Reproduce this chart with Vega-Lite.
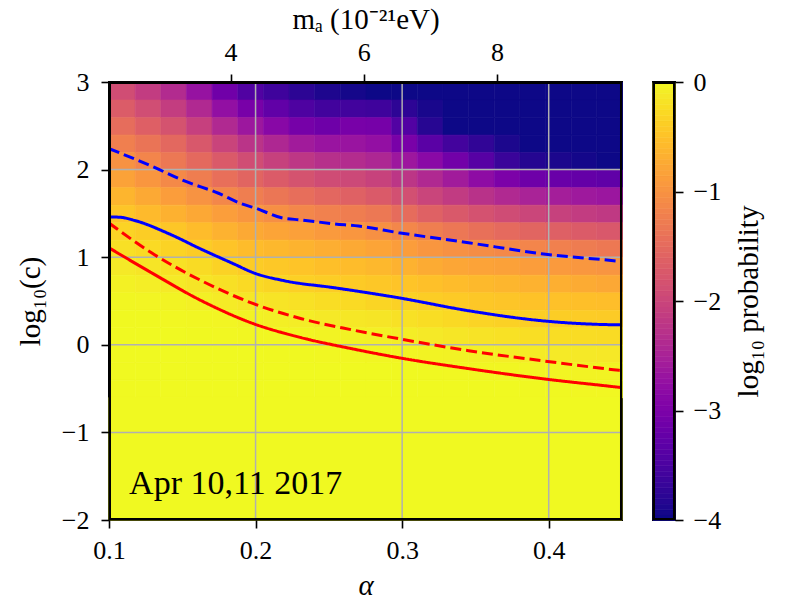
{
  "$schema": "https://vega.github.io/schema/vega-lite/v6.json",
  "background": "white",
  "padding": {"left": 15, "top": 4, "right": 5, "bottom": 5},
  "config": {
    "font": "Liberation Serif",
    "view": {"stroke": "black", "strokeWidth": 2},
    "axis": {"grid": false, "domain": false, "labelFlush": false, "labelOverlap": false, "labelFont": "Liberation Serif", "titleFont": "Liberation Serif", "labelFontSize": 26, "titleFontSize": 29, "titleFontWeight": "normal", "labelColor": "black", "titleColor": "black", "tickColor": "black", "tickSize": 8, "tickWidth": 1.6},
    "axisBottom": {"labelPadding": 9, "titlePadding": 8},
    "axisLeft": {"labelPadding": 12, "titlePadding": 16},
    "axisTop": {"labelPadding": 9, "titlePadding": 5},
    "axisRight": {"labelPadding": 10, "titlePadding": 14}
  },
  "datasets": {
    "cells": [
      {"a":0.1,"c":2.8,"p":-1.92},{"a":0.1175,"c":2.8,"p":-2.15},{"a":0.135,"c":2.8,"p":-2.39},{"a":0.1525,"c":2.8,"p":-2.73},{"a":0.17,"c":2.8,"p":-3.14},{"a":0.1875,"c":2.8,"p":-3.46},{"a":0.205,"c":2.8,"p":-3.63},{"a":0.2225,"c":2.8,"p":-3.79},{"a":0.24,"c":2.8,"p":-3.9},{"a":0.2575,"c":2.8,"p":-3.95},{"a":0.275,"c":2.8,"p":-4},{"a":0.2925,"c":2.8,"p":-4},{"a":0.31,"c":2.8,"p":-4},{"a":0.3275,"c":2.8,"p":-4},{"a":0.345,"c":2.8,"p":-4},{"a":0.3625,"c":2.8,"p":-4},{"a":0.38,"c":2.8,"p":-4},{"a":0.3975,"c":2.8,"p":-4},{"a":0.415,"c":2.8,"p":-4},{"a":0.4325,"c":2.8,"p":-4},
      {"a":0.1,"c":2.6,"p":-1.71},{"a":0.1175,"c":2.6,"p":-1.91},{"a":0.135,"c":2.6,"p":-2.13},{"a":0.1525,"c":2.6,"p":-2.42},{"a":0.17,"c":2.6,"p":-2.78},{"a":0.1875,"c":2.6,"p":-3.07},{"a":0.205,"c":2.6,"p":-3.29},{"a":0.2225,"c":2.6,"p":-3.49},{"a":0.24,"c":2.6,"p":-3.6},{"a":0.2575,"c":2.6,"p":-3.6},{"a":0.275,"c":2.6,"p":-3.63},{"a":0.2925,"c":2.6,"p":-3.78},{"a":0.31,"c":2.6,"p":-3.93},{"a":0.3275,"c":2.6,"p":-4},{"a":0.345,"c":2.6,"p":-4},{"a":0.3625,"c":2.6,"p":-4},{"a":0.38,"c":2.6,"p":-4},{"a":0.3975,"c":2.6,"p":-4},{"a":0.415,"c":2.6,"p":-4},{"a":0.4325,"c":2.6,"p":-4},
      {"a":0.1,"c":2.4,"p":-1.48},{"a":0.1175,"c":2.4,"p":-1.66},{"a":0.135,"c":2.4,"p":-1.84},{"a":0.1525,"c":2.4,"p":-2.09},{"a":0.17,"c":2.4,"p":-2.41},{"a":0.1875,"c":2.4,"p":-2.67},{"a":0.205,"c":2.4,"p":-2.89},{"a":0.2225,"c":2.4,"p":-3.09},{"a":0.24,"c":2.4,"p":-3.16},{"a":0.2575,"c":2.4,"p":-3.07},{"a":0.275,"c":2.4,"p":-3.09},{"a":0.2925,"c":2.4,"p":-3.45},{"a":0.31,"c":2.4,"p":-3.83},{"a":0.3275,"c":2.4,"p":-4},{"a":0.345,"c":2.4,"p":-4},{"a":0.3625,"c":2.4,"p":-4},{"a":0.38,"c":2.4,"p":-4},{"a":0.3975,"c":2.4,"p":-4},{"a":0.415,"c":2.4,"p":-4},{"a":0.4325,"c":2.4,"p":-4},
      {"a":0.1,"c":2.2,"p":-1.25},{"a":0.1175,"c":2.2,"p":-1.39},{"a":0.135,"c":2.2,"p":-1.55},{"a":0.1525,"c":2.2,"p":-1.77},{"a":0.17,"c":2.2,"p":-2.04},{"a":0.1875,"c":2.2,"p":-2.26},{"a":0.205,"c":2.2,"p":-2.44},{"a":0.2225,"c":2.2,"p":-2.61},{"a":0.24,"c":2.2,"p":-2.7},{"a":0.2575,"c":2.2,"p":-2.7},{"a":0.275,"c":2.2,"p":-2.77},{"a":0.2925,"c":2.2,"p":-3.06},{"a":0.31,"c":2.2,"p":-3.36},{"a":0.3275,"c":2.2,"p":-3.59},{"a":0.345,"c":2.2,"p":-3.75},{"a":0.3625,"c":2.2,"p":-3.91},{"a":0.38,"c":2.2,"p":-4},{"a":0.3975,"c":2.2,"p":-4},{"a":0.415,"c":2.2,"p":-4},{"a":0.4325,"c":2.2,"p":-4},
      {"a":0.1,"c":2.0,"p":-1.03},{"a":0.1175,"c":2.0,"p":-1.18},{"a":0.135,"c":2.0,"p":-1.35},{"a":0.1525,"c":2.0,"p":-1.53},{"a":0.17,"c":2.0,"p":-1.74},{"a":0.1875,"c":2.0,"p":-1.92},{"a":0.205,"c":2.0,"p":-2.08},{"a":0.2225,"c":2.0,"p":-2.22},{"a":0.24,"c":2.0,"p":-2.32},{"a":0.2575,"c":2.0,"p":-2.37},{"a":0.275,"c":2.0,"p":-2.45},{"a":0.2925,"c":2.0,"p":-2.66},{"a":0.31,"c":2.0,"p":-2.87},{"a":0.3275,"c":2.0,"p":-3.12},{"a":0.345,"c":2.0,"p":-3.4},{"a":0.3625,"c":2.0,"p":-3.67},{"a":0.38,"c":2.0,"p":-3.85},{"a":0.3975,"c":2.0,"p":-3.91},{"a":0.415,"c":2.0,"p":-3.96},{"a":0.4325,"c":2.0,"p":-4},
      {"a":0.1,"c":1.8,"p":-0.84},{"a":0.1175,"c":1.8,"p":-0.98},{"a":0.135,"c":1.8,"p":-1.13},{"a":0.1525,"c":1.8,"p":-1.28},{"a":0.17,"c":1.8,"p":-1.45},{"a":0.1875,"c":1.8,"p":-1.59},{"a":0.205,"c":1.8,"p":-1.72},{"a":0.2225,"c":1.8,"p":-1.84},{"a":0.24,"c":1.8,"p":-1.93},{"a":0.2575,"c":1.8,"p":-1.98},{"a":0.275,"c":1.8,"p":-2.06},{"a":0.2925,"c":1.8,"p":-2.24},{"a":0.31,"c":1.8,"p":-2.42},{"a":0.3275,"c":1.8,"p":-2.61},{"a":0.345,"c":1.8,"p":-2.82},{"a":0.3625,"c":1.8,"p":-3.02},{"a":0.38,"c":1.8,"p":-3.16},{"a":0.3975,"c":1.8,"p":-3.21},{"a":0.415,"c":1.8,"p":-3.26},{"a":0.4325,"c":1.8,"p":-3.3},
      {"a":0.1,"c":1.6,"p":-0.65},{"a":0.1175,"c":1.6,"p":-0.77},{"a":0.135,"c":1.6,"p":-0.9},{"a":0.1525,"c":1.6,"p":-1.02},{"a":0.17,"c":1.6,"p":-1.16},{"a":0.1875,"c":1.6,"p":-1.27},{"a":0.205,"c":1.6,"p":-1.37},{"a":0.2225,"c":1.6,"p":-1.47},{"a":0.24,"c":1.6,"p":-1.56},{"a":0.2575,"c":1.6,"p":-1.64},{"a":0.275,"c":1.6,"p":-1.73},{"a":0.2925,"c":1.6,"p":-1.88},{"a":0.31,"c":1.6,"p":-2.03},{"a":0.3275,"c":1.6,"p":-2.16},{"a":0.345,"c":1.6,"p":-2.29},{"a":0.3625,"c":1.6,"p":-2.41},{"a":0.38,"c":1.6,"p":-2.51},{"a":0.3975,"c":1.6,"p":-2.57},{"a":0.415,"c":1.6,"p":-2.64},{"a":0.4325,"c":1.6,"p":-2.68},
      {"a":0.1,"c":1.4,"p":-0.49},{"a":0.1175,"c":1.4,"p":-0.59},{"a":0.135,"c":1.4,"p":-0.69},{"a":0.1525,"c":1.4,"p":-0.78},{"a":0.17,"c":1.4,"p":-0.89},{"a":0.1875,"c":1.4,"p":-0.98},{"a":0.205,"c":1.4,"p":-1.07},{"a":0.2225,"c":1.4,"p":-1.16},{"a":0.24,"c":1.4,"p":-1.23},{"a":0.2575,"c":1.4,"p":-1.28},{"a":0.275,"c":1.4,"p":-1.35},{"a":0.2925,"c":1.4,"p":-1.49},{"a":0.31,"c":1.4,"p":-1.64},{"a":0.3275,"c":1.4,"p":-1.75},{"a":0.345,"c":1.4,"p":-1.85},{"a":0.3625,"c":1.4,"p":-1.94},{"a":0.38,"c":1.4,"p":-2.02},{"a":0.3975,"c":1.4,"p":-2.08},{"a":0.415,"c":1.4,"p":-2.15},{"a":0.4325,"c":1.4,"p":-2.19},
      {"a":0.1,"c":1.2,"p":-0.35},{"a":0.1175,"c":1.2,"p":-0.41},{"a":0.135,"c":1.2,"p":-0.48},{"a":0.1525,"c":1.2,"p":-0.57},{"a":0.17,"c":1.2,"p":-0.68},{"a":0.1875,"c":1.2,"p":-0.77},{"a":0.205,"c":1.2,"p":-0.82},{"a":0.2225,"c":1.2,"p":-0.87},{"a":0.24,"c":1.2,"p":-0.93},{"a":0.2575,"c":1.2,"p":-0.98},{"a":0.275,"c":1.2,"p":-1.05},{"a":0.2925,"c":1.2,"p":-1.16},{"a":0.31,"c":1.2,"p":-1.27},{"a":0.3275,"c":1.2,"p":-1.36},{"a":0.345,"c":1.2,"p":-1.44},{"a":0.3625,"c":1.2,"p":-1.52},{"a":0.38,"c":1.2,"p":-1.59},{"a":0.3975,"c":1.2,"p":-1.65},{"a":0.415,"c":1.2,"p":-1.72},{"a":0.4325,"c":1.2,"p":-1.76},
      {"a":0.1,"c":1.0,"p":-0.23},{"a":0.1175,"c":1.0,"p":-0.29},{"a":0.135,"c":1.0,"p":-0.35},{"a":0.1525,"c":1.0,"p":-0.42},{"a":0.17,"c":1.0,"p":-0.5},{"a":0.1875,"c":1.0,"p":-0.57},{"a":0.205,"c":1.0,"p":-0.62},{"a":0.2225,"c":1.0,"p":-0.67},{"a":0.24,"c":1.0,"p":-0.72},{"a":0.2575,"c":1.0,"p":-0.77},{"a":0.275,"c":1.0,"p":-0.82},{"a":0.2925,"c":1.0,"p":-0.9},{"a":0.31,"c":1.0,"p":-0.98},{"a":0.3275,"c":1.0,"p":-1.04},{"a":0.345,"c":1.0,"p":-1.09},{"a":0.3625,"c":1.0,"p":-1.13},{"a":0.38,"c":1.0,"p":-1.18},{"a":0.3975,"c":1.0,"p":-1.24},{"a":0.415,"c":1.0,"p":-1.3},{"a":0.4325,"c":1.0,"p":-1.34},
      {"a":0.1,"c":0.8,"p":-0.14},{"a":0.1175,"c":0.8,"p":-0.18},{"a":0.135,"c":0.8,"p":-0.22},{"a":0.1525,"c":0.8,"p":-0.28},{"a":0.17,"c":0.8,"p":-0.36},{"a":0.1875,"c":0.8,"p":-0.42},{"a":0.205,"c":0.8,"p":-0.46},{"a":0.2225,"c":0.8,"p":-0.5},{"a":0.24,"c":0.8,"p":-0.54},{"a":0.2575,"c":0.8,"p":-0.57},{"a":0.275,"c":0.8,"p":-0.62},{"a":0.2925,"c":0.8,"p":-0.68},{"a":0.31,"c":0.8,"p":-0.75},{"a":0.3275,"c":0.8,"p":-0.8},{"a":0.345,"c":0.8,"p":-0.83},{"a":0.3625,"c":0.8,"p":-0.86},{"a":0.38,"c":0.8,"p":-0.9},{"a":0.3975,"c":0.8,"p":-0.93},{"a":0.415,"c":0.8,"p":-0.97},{"a":0.4325,"c":0.8,"p":-1.0},
      {"a":0.1,"c":0.6,"p":-0.07},{"a":0.1175,"c":0.6,"p":-0.1},{"a":0.135,"c":0.6,"p":-0.13},{"a":0.1525,"c":0.6,"p":-0.18},{"a":0.17,"c":0.6,"p":-0.23},{"a":0.1875,"c":0.6,"p":-0.29},{"a":0.205,"c":0.6,"p":-0.33},{"a":0.2225,"c":0.6,"p":-0.38},{"a":0.24,"c":0.6,"p":-0.41},{"a":0.2575,"c":0.6,"p":-0.44},{"a":0.275,"c":0.6,"p":-0.47},{"a":0.2925,"c":0.6,"p":-0.5},{"a":0.31,"c":0.6,"p":-0.53},{"a":0.3275,"c":0.6,"p":-0.57},{"a":0.345,"c":0.6,"p":-0.61},{"a":0.3625,"c":0.6,"p":-0.64},{"a":0.38,"c":0.6,"p":-0.68},{"a":0.3975,"c":0.6,"p":-0.71},{"a":0.415,"c":0.6,"p":-0.75},{"a":0.4325,"c":0.6,"p":-0.78},
      {"a":0.1,"c":0.4,"p":-0.03},{"a":0.1175,"c":0.4,"p":-0.04},{"a":0.135,"c":0.4,"p":-0.05},{"a":0.1525,"c":0.4,"p":-0.08},{"a":0.17,"c":0.4,"p":-0.12},{"a":0.1875,"c":0.4,"p":-0.16},{"a":0.205,"c":0.4,"p":-0.19},{"a":0.2225,"c":0.4,"p":-0.22},{"a":0.24,"c":0.4,"p":-0.26},{"a":0.2575,"c":0.4,"p":-0.29},{"a":0.275,"c":0.4,"p":-0.33},{"a":0.2925,"c":0.4,"p":-0.37},{"a":0.31,"c":0.4,"p":-0.41},{"a":0.3275,"c":0.4,"p":-0.44},{"a":0.345,"c":0.4,"p":-0.47},{"a":0.3625,"c":0.4,"p":-0.49},{"a":0.38,"c":0.4,"p":-0.51},{"a":0.3975,"c":0.4,"p":-0.52},{"a":0.415,"c":0.4,"p":-0.54},{"a":0.4325,"c":0.4,"p":-0.55},
      {"a":0.1,"c":0.2,"p":-0.01},{"a":0.1175,"c":0.2,"p":-0.01},{"a":0.135,"c":0.2,"p":-0.02},{"a":0.1525,"c":0.2,"p":-0.03},{"a":0.17,"c":0.2,"p":-0.04},{"a":0.1875,"c":0.2,"p":-0.06},{"a":0.205,"c":0.2,"p":-0.09},{"a":0.2225,"c":0.2,"p":-0.11},{"a":0.24,"c":0.2,"p":-0.14},{"a":0.2575,"c":0.2,"p":-0.16},{"a":0.275,"c":0.2,"p":-0.18},{"a":0.2925,"c":0.2,"p":-0.22},{"a":0.31,"c":0.2,"p":-0.26},{"a":0.3275,"c":0.2,"p":-0.3},{"a":0.345,"c":0.2,"p":-0.34},{"a":0.3625,"c":0.2,"p":-0.37},{"a":0.38,"c":0.2,"p":-0.4},{"a":0.3975,"c":0.2,"p":-0.41},{"a":0.415,"c":0.2,"p":-0.42},{"a":0.4325,"c":0.2,"p":-0.43},
      {"a":0.1,"c":0.0,"p":0},{"a":0.1175,"c":0.0,"p":0},{"a":0.135,"c":0.0,"p":0},{"a":0.1525,"c":0.0,"p":-0.01},{"a":0.17,"c":0.0,"p":-0.02},{"a":0.1875,"c":0.0,"p":-0.03},{"a":0.205,"c":0.0,"p":-0.03},{"a":0.2225,"c":0.0,"p":-0.04},{"a":0.24,"c":0.0,"p":-0.05},{"a":0.2575,"c":0.0,"p":-0.06},{"a":0.275,"c":0.0,"p":-0.08},{"a":0.2925,"c":0.0,"p":-0.11},{"a":0.31,"c":0.0,"p":-0.14},{"a":0.3275,"c":0.0,"p":-0.17},{"a":0.345,"c":0.0,"p":-0.2},{"a":0.3625,"c":0.0,"p":-0.22},{"a":0.38,"c":0.0,"p":-0.25},{"a":0.3975,"c":0.0,"p":-0.26},{"a":0.415,"c":0.0,"p":-0.27},{"a":0.4325,"c":0.0,"p":-0.28},
      {"a":0.1,"c":-0.2,"p":0},{"a":0.1175,"c":-0.2,"p":0},{"a":0.135,"c":-0.2,"p":0},{"a":0.1525,"c":-0.2,"p":0},{"a":0.17,"c":-0.2,"p":0},{"a":0.1875,"c":-0.2,"p":0},{"a":0.205,"c":-0.2,"p":-0.01},{"a":0.2225,"c":-0.2,"p":-0.01},{"a":0.24,"c":-0.2,"p":-0.02},{"a":0.2575,"c":-0.2,"p":-0.02},{"a":0.275,"c":-0.2,"p":-0.03},{"a":0.2925,"c":-0.2,"p":-0.04},{"a":0.31,"c":-0.2,"p":-0.05},{"a":0.3275,"c":-0.2,"p":-0.06},{"a":0.345,"c":-0.2,"p":-0.08},{"a":0.3625,"c":-0.2,"p":-0.1},{"a":0.38,"c":-0.2,"p":-0.12},{"a":0.3975,"c":-0.2,"p":-0.13},{"a":0.415,"c":-0.2,"p":-0.14},{"a":0.4325,"c":-0.2,"p":-0.15},
      {"a":0.1,"c":-0.4,"p":0},{"a":0.1175,"c":-0.4,"p":0},{"a":0.135,"c":-0.4,"p":0},{"a":0.1525,"c":-0.4,"p":0},{"a":0.17,"c":-0.4,"p":0},{"a":0.1875,"c":-0.4,"p":0},{"a":0.205,"c":-0.4,"p":0},{"a":0.2225,"c":-0.4,"p":0},{"a":0.24,"c":-0.4,"p":0},{"a":0.2575,"c":-0.4,"p":0},{"a":0.275,"c":-0.4,"p":0},{"a":0.2925,"c":-0.4,"p":-0.01},{"a":0.31,"c":-0.4,"p":-0.01},{"a":0.3275,"c":-0.4,"p":-0.02},{"a":0.345,"c":-0.4,"p":-0.03},{"a":0.3625,"c":-0.4,"p":-0.03},{"a":0.38,"c":-0.4,"p":-0.04},{"a":0.3975,"c":-0.4,"p":-0.04},{"a":0.415,"c":-0.4,"p":-0.05},{"a":0.4325,"c":-0.4,"p":-0.05},
      {"a":0.1,"c":-0.6,"p":0},{"a":0.1175,"c":-0.6,"p":0},{"a":0.135,"c":-0.6,"p":0},{"a":0.1525,"c":-0.6,"p":0},{"a":0.17,"c":-0.6,"p":0},{"a":0.1875,"c":-0.6,"p":0},{"a":0.205,"c":-0.6,"p":0},{"a":0.2225,"c":-0.6,"p":0},{"a":0.24,"c":-0.6,"p":0},{"a":0.2575,"c":-0.6,"p":0},{"a":0.275,"c":-0.6,"p":0},{"a":0.2925,"c":-0.6,"p":0},{"a":0.31,"c":-0.6,"p":0},{"a":0.3275,"c":-0.6,"p":0},{"a":0.345,"c":-0.6,"p":0},{"a":0.3625,"c":-0.6,"p":0},{"a":0.38,"c":-0.6,"p":-0.01},{"a":0.3975,"c":-0.6,"p":-0.01},{"a":0.415,"c":-0.6,"p":-0.02},{"a":0.4325,"c":-0.6,"p":-0.02}
    ],
    "base": [{"a":0.1,"a2":0.45,"c":-2,"c2":-0.6,"p":0}],
    "gridx": [{"a":0.2},{"a":0.3},{"a":0.4}],
    "gridy": [{"c":-1},{"c":0},{"c":1},{"c":2}],
    "curves": [
      {"k":"bd","a":0.1,"c":2.24},{"k":"bd","a":0.129,"c":2.04},{"k":"bd","a":0.1515,"c":1.87},{"k":"bd","a":0.1747,"c":1.73},{"k":"bd","a":0.1904,"c":1.61},{"k":"bd","a":0.2,"c":1.56},{"k":"bd","a":0.2177,"c":1.45},{"k":"bd","a":0.2313,"c":1.425},{"k":"bd","a":0.2539,"c":1.38},{"k":"bd","a":0.2702,"c":1.355},{"k":"bd","a":0.2975,"c":1.28},{"k":"bd","a":0.3453,"c":1.165},{"k":"bd","a":0.3951,"c":1.04},{"k":"bd","a":0.4442,"c":0.96},{"k":"bd","a":0.45,"c":0.95},
      {"k":"bs","a":0.1,"c":1.46},{"k":"bs","a":0.108,"c":1.455},{"k":"bs","a":0.1174,"c":1.42},{"k":"bs","a":0.1406,"c":1.27},{"k":"bs","a":0.1631,"c":1.09},{"k":"bs","a":0.1856,"c":0.92},{"k":"bs","a":0.1986,"c":0.822},{"k":"bs","a":0.2197,"c":0.731},{"k":"bs","a":0.2539,"c":0.651},{"k":"bs","a":0.2975,"c":0.537},{"k":"bs","a":0.3453,"c":0.389},{"k":"bs","a":0.3951,"c":0.275},{"k":"bs","a":0.4442,"c":0.229},{"k":"bs","a":0.45,"c":0.228},
      {"k":"rd","a":0.1,"c":1.39},{"k":"rd","a":0.129,"c":1.05},{"k":"rd","a":0.1631,"c":0.731},{"k":"rd","a":0.1986,"c":0.469},{"k":"rd","a":0.2313,"c":0.298},{"k":"rd","a":0.2655,"c":0.172},{"k":"rd","a":0.2975,"c":0.07},{"k":"rd","a":0.3453,"c":-0.067},{"k":"rd","a":0.3951,"c":-0.181},{"k":"rd","a":0.4442,"c":-0.284},{"k":"rd","a":0.45,"c":-0.295},
      {"k":"rs","a":0.1,"c":1.107},{"k":"rs","a":0.129,"c":0.822},{"k":"rs","a":0.1631,"c":0.503},{"k":"rs","a":0.1986,"c":0.241},{"k":"rs","a":0.2313,"c":0.081},{"k":"rs","a":0.2655,"c":-0.044},{"k":"rs","a":0.2975,"c":-0.147},{"k":"rs","a":0.3453,"c":-0.272},{"k":"rs","a":0.3951,"c":-0.386},{"k":"rs","a":0.4442,"c":-0.478},{"k":"rs","a":0.45,"c":-0.489}
    ],
    "note": [{"t":"Apr 10,11 2017"}],
    "mticks": [{"m":4},{"m":6},{"m":8}],
    "one": [{"u":0}],
    "bar": [
      {"p":-4},{"p":-3.95},{"p":-3.9},{"p":-3.85},{"p":-3.8},{"p":-3.75},{"p":-3.7},{"p":-3.65},{"p":-3.6},{"p":-3.55},
      {"p":-3.5},{"p":-3.45},{"p":-3.4},{"p":-3.35},{"p":-3.3},{"p":-3.25},{"p":-3.2},{"p":-3.15},{"p":-3.1},{"p":-3.05},
      {"p":-3},{"p":-2.95},{"p":-2.9},{"p":-2.85},{"p":-2.8},{"p":-2.75},{"p":-2.7},{"p":-2.65},{"p":-2.6},{"p":-2.55},
      {"p":-2.5},{"p":-2.45},{"p":-2.4},{"p":-2.35},{"p":-2.3},{"p":-2.25},{"p":-2.2},{"p":-2.15},{"p":-2.1},{"p":-2.05},
      {"p":-2},{"p":-1.95},{"p":-1.9},{"p":-1.85},{"p":-1.8},{"p":-1.75},{"p":-1.7},{"p":-1.65},{"p":-1.6},{"p":-1.55},
      {"p":-1.5},{"p":-1.45},{"p":-1.4},{"p":-1.35},{"p":-1.3},{"p":-1.25},{"p":-1.2},{"p":-1.15},{"p":-1.1},{"p":-1.05},
      {"p":-1},{"p":-0.95},{"p":-0.9},{"p":-0.85},{"p":-0.8},{"p":-0.75},{"p":-0.7},{"p":-0.65},{"p":-0.6},{"p":-0.55},
      {"p":-0.5},{"p":-0.45},{"p":-0.4},{"p":-0.35},{"p":-0.3},{"p":-0.25},{"p":-0.2},{"p":-0.15},{"p":-0.1},{"p":-0.05}
    ]
  },
  "hconcat": [
    {
      "width": 513,
      "height": 438,
      "layer": [
        {
          "layer": [
            {
              "data": {"name": "cells"},
              "mark": {"type": "rect", "strokeWidth": 0.6},
              "encoding": {
                "x": {"field": "a", "type": "quantitative", "bin": {"binned": true, "step": 0.0175}, "scale": {"domain": [0.1, 0.45], "nice": false, "zero": false}, "axis": {"values": [0.1, 0.2, 0.3, 0.4], "format": ".1f", "title": "α", "titleFontStyle": "italic"}},
                "y": {"field": "c", "type": "quantitative", "bin": {"binned": true, "step": 0.2}, "scale": {"domain": [-2, 3], "nice": false, "zero": false}, "axis": {"values": [-2, -1, 0, 1, 2, 3], "format": "d", "title": "log₁₀(c)"}},
                "fill": {"field": "p", "type": "quantitative", "scale": {"scheme": "plasma", "domain": [-4, 0], "clamp": true}, "legend": null},
                "stroke": {"field": "p", "type": "quantitative", "scale": {"scheme": "plasma", "domain": [-4, 0], "clamp": true}, "legend": null}
              }
            },
            {
              "data": {"name": "base"},
              "mark": {"type": "rect", "strokeWidth": 0.6},
              "encoding": {
                "x": {"field": "a", "type": "quantitative"},
                "x2": {"field": "a2"},
                "y": {"field": "c", "type": "quantitative"},
                "y2": {"field": "c2"},
                "fill": {"field": "p", "type": "quantitative", "legend": null},
                "stroke": {"field": "p", "type": "quantitative", "legend": null}
              }
            },
            {
              "data": {"name": "gridx"},
              "mark": {"type": "rule", "color": "#b0b0b0", "strokeWidth": 1.5},
              "encoding": {"x": {"field": "a", "type": "quantitative"}}
            },
            {
              "data": {"name": "gridy"},
              "mark": {"type": "rule", "color": "#b0b0b0", "strokeWidth": 1.5},
              "encoding": {"y": {"field": "c", "type": "quantitative"}}
            },
            {
              "data": {"name": "curves"},
              "mark": {"type": "line", "strokeWidth": 3, "interpolate": "monotone", "clip": true},
              "encoding": {
                "x": {"field": "a", "type": "quantitative"},
                "y": {"field": "c", "type": "quantitative"},
                "color": {"field": "k", "type": "nominal", "scale": {"domain": ["bd", "bs", "rd", "rs"], "range": ["#0000ff", "#0000ff", "#ff0000", "#ff0000"]}, "legend": null},
                "strokeDash": {"field": "k", "type": "nominal", "scale": {"domain": ["bd", "bs", "rd", "rs"], "range": [[11, 5], [1, 0], [11, 5], [1, 0]]}, "legend": null}
              }
            },
            {
              "data": {"name": "note"},
              "mark": {"type": "text", "align": "left", "baseline": "alphabetic", "fontSize": 34, "font": "Liberation Serif", "color": "black"},
              "encoding": {
                "x": {"datum": 0.1137},
                "y": {"datum": -1.7},
                "text": {"field": "t"}
              }
            },
            {
              "data": {"name": "one"},
              "mark": {"type": "rect", "color": "#000000"},
              "encoding": {"x": {"datum": 0.1}, "x2": {"datum": 0.10137}, "y": {"datum": -2}, "y2": {"datum": 3}}
            },
            {
              "data": {"name": "one"},
              "mark": {"type": "rect", "color": "#000000"},
              "encoding": {"x": {"datum": 0.44863}, "x2": {"datum": 0.45}, "y": {"datum": -2}, "y2": {"datum": 3}}
            },
            {
              "data": {"name": "one"},
              "mark": {"type": "rect", "color": "#000000"},
              "encoding": {"x": {"datum": 0.1}, "x2": {"datum": 0.45}, "y": {"datum": -2}, "y2": {"datum": -1.9772}}
            },
            {
              "data": {"name": "one"},
              "mark": {"type": "rect", "color": "#000000"},
              "encoding": {"x": {"datum": 0.1}, "x2": {"datum": 0.45}, "y": {"datum": 2.9772}, "y2": {"datum": 3}}
            }
          ]
        },
        {
          "data": {"name": "mticks"},
          "mark": {"type": "rule", "opacity": 0},
          "encoding": {
            "x": {"field": "m", "type": "quantitative", "scale": {"domain": [2.176, 9.877], "nice": false, "zero": false}, "axis": {"orient": "top", "values": [4, 6, 8], "format": "d", "title": "mₐ (10⁻²¹eV)"}}
          }
        }
      ],
      "resolve": {"scale": {"x": "independent"}}
    },
    {
      "width": 22,
      "height": 438,
      "layer": [
        {
          "data": {"name": "bar"},
          "mark": {"type": "rect", "strokeWidth": 0.6},
          "encoding": {
            "x": {"datum": 0, "type": "quantitative", "scale": {"domain": [0, 1], "nice": false, "zero": false}, "axis": null},
            "x2": {"datum": 1},
            "y": {"field": "p", "type": "quantitative", "bin": {"binned": true, "step": 0.05}, "scale": {"domain": [-4, 0], "nice": false, "zero": false}, "axis": {"orient": "right", "values": [-4, -3, -2, -1, 0], "format": "d", "title": "log₁₀ probability", "titleAngle": 270, "titleBaseline": "top"}},
            "fill": {"field": "p", "type": "quantitative", "scale": {"scheme": "plasma", "domain": [-4, 0], "clamp": true}, "legend": null},
            "stroke": {"field": "p", "type": "quantitative", "scale": {"scheme": "plasma", "domain": [-4, 0], "clamp": true}, "legend": null}
          }
        },
        {
          "data": {"name": "one"},
          "mark": {"type": "rect", "color": "#000000"},
          "encoding": {"x": {"datum": 0}, "x2": {"datum": 0.091}, "y": {"datum": -4}, "y2": {"datum": 0}}
        },
        {
          "data": {"name": "one"},
          "mark": {"type": "rect", "color": "#000000"},
          "encoding": {"x": {"datum": 0.909}, "x2": {"datum": 1}, "y": {"datum": -4}, "y2": {"datum": 0}}
        },
        {
          "data": {"name": "one"},
          "mark": {"type": "rect", "color": "#000000"},
          "encoding": {"x": {"datum": 0}, "x2": {"datum": 1}, "y": {"datum": -4}, "y2": {"datum": -3.9817}}
        },
        {
          "data": {"name": "one"},
          "mark": {"type": "rect", "color": "#000000"},
          "encoding": {"x": {"datum": 0}, "x2": {"datum": 1}, "y": {"datum": -0.0183}, "y2": {"datum": 0}}
        }
      ]
    }
  ],
  "spacing": 31,
  "bounds": "flush"
}
